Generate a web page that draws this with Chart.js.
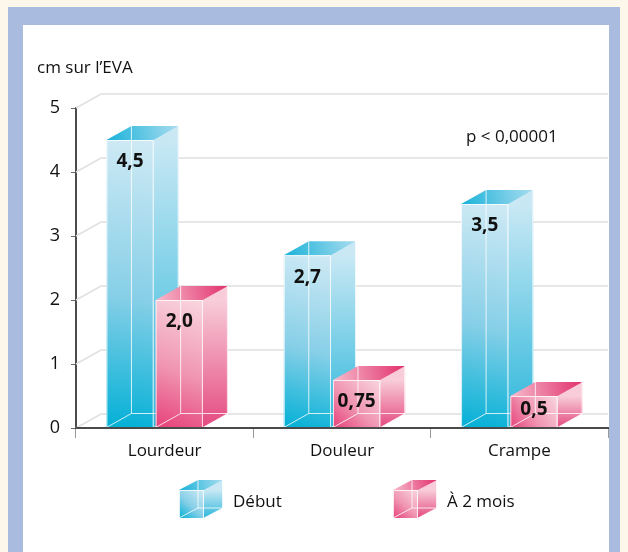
<!DOCTYPE html>
<html lang="fr">
<head>
<meta charset="utf-8">
<script src="https://cdn.jsdelivr.net/npm/chart.js@4.4.1/dist/chart.umd.min.js"></script>
<style>
  html, body { margin: 0; padding: 0; }
  body { width: 628px; height: 552px; background: #fcf7ea; position: relative; overflow: hidden; }
  .cadre { position: absolute; left: 8px; top: 7px; width: 612px; height: 560px; background: #aabbe0; }
  .fond { position: absolute; left: 23px; top: 25px; width: 586px; height: 540px; background: #fff; }
  #graph { position: absolute; left: 23px; top: 25px; }
</style>
</head>
<body>
<div class="cadre"></div>
<div class="fond"></div>
<canvas id="graph" width="586" height="527"></canvas>
<script>
// données
const categories = ['Lourdeur', 'Douleur', 'Crampe'];
const debut = [4.5, 2.7, 3.5];
const deuxMois = [2.0, 0.75, 0.5];
const yTicks = [0, 1, 2, 3, 4, 5];
const seriesNames = ['Début', 'À 2 mois'];

const DX = 25, DY = -14, SHIFT = -10;
const FONT = "'Open Sans', sans-serif";

const palettes = [
    { front: ['#d0eaf5', '#86cfe7', '#02b0d6'], side: ['#c9e8f4', '#2cb7db'], top: ['#18b2d9', '#a9dcef'] },
    { front: ['#f9d6df', '#f096b2', '#e6417a'], side: ['#f8cdd9', '#e44a80'], top: ['#f6bccd', '#e2306d'] }
];

const fmt = v => v.toLocaleString('fr-FR', { minimumFractionDigits: 1 });

function drawBox(ctx, left, right, top, bottom, c, dx, dy) {
    // face latérale
    let g = ctx.createLinearGradient(0, top, 0, bottom);
    g.addColorStop(0, c.side[0]);
    g.addColorStop(1, c.side[1]);
    ctx.fillStyle = g;
    ctx.beginPath();
    ctx.moveTo(right, top);
    ctx.lineTo(right + dx, top + dy);
    ctx.lineTo(right + dx, bottom + dy);
    ctx.lineTo(right, bottom);
    ctx.closePath();
    ctx.fill();

    // face avant
    g = ctx.createLinearGradient(right, top, left, bottom);
    g.addColorStop(0, c.front[0]);
    g.addColorStop(0.55, c.front[1]);
    g.addColorStop(1, c.front[2]);
    ctx.fillStyle = g;
    ctx.fillRect(left, top, right - left, bottom - top);

    // dessus
    g = ctx.createLinearGradient(left, top, right + dx, top + dy);
    g.addColorStop(0, c.top[0]);
    g.addColorStop(1, c.top[1]);
    ctx.fillStyle = g;
    ctx.beginPath();
    ctx.moveTo(left, top);
    ctx.lineTo(left + dx, top + dy);
    ctx.lineTo(right + dx, top + dy);
    ctx.lineTo(right, top);
    ctx.closePath();
    ctx.fill();

    // arêtes "verre"
    ctx.save();
    ctx.strokeStyle = 'rgba(255,255,255,0.8)';
    ctx.lineWidth = 1;
    ctx.beginPath();
    ctx.moveTo(left + dx, top + dy); ctx.lineTo(left + dx, bottom + dy);
    ctx.lineTo(right + dx, bottom + dy);
    ctx.moveTo(left, bottom); ctx.lineTo(left + dx, bottom + dy);
    ctx.moveTo(left + 0.5, bottom); ctx.lineTo(left + 0.5, top + 0.5);
    ctx.lineTo(right - 0.5, top + 0.5); ctx.lineTo(right - 0.5, bottom);
    ctx.moveTo(right, bottom); ctx.lineTo(right + dx, bottom + dy);
    ctx.moveTo(right + dx - 0.5, top + dy); ctx.lineTo(right + dx - 0.5, bottom + dy);
    ctx.stroke();
    ctx.restore();
}

const bars3d = {
    id: 'bars3d',
    beforeDatasetsDraw(chart) {
        const { ctx, chartArea, scales } = chart;
        ctx.save();
        ctx.strokeStyle = '#e0e0e0';
        ctx.lineWidth = 1.5;
        yTicks.forEach(v => {
            const py = scales.y.getPixelForValue(v);
            ctx.beginPath();
            ctx.moveTo(chartArea.left, py);
            ctx.lineTo(chartArea.left + DX, py + DY);
            ctx.lineTo(chartArea.right, py + DY);
            ctx.stroke();
        });
        ctx.restore();
    },
    beforeDatasetDraw() {
        return false;
    },
    afterDatasetsDraw(chart) {
        const { ctx, chartArea } = chart;
        const metas = chart.data.datasets.map((d, i) => chart.getDatasetMeta(i));
        categories.forEach((cat, idx) => {
            metas.forEach((meta, di) => {
                const b = meta.data[idx].getProps(['x', 'y', 'base', 'width'], true);
                drawBox(ctx, b.x - b.width / 2 + SHIFT, b.x + b.width / 2 + SHIFT, b.y, b.base, palettes[di], DX, DY);
            });
        });
        // ligne de l'axe par-dessus les barres
        ctx.save();
        ctx.strokeStyle = '#4a4a4a';
        ctx.lineWidth = 2;
        ctx.beginPath();
        ctx.moveTo(chartArea.left, chartArea.bottom);
        ctx.lineTo(chartArea.right, chartArea.bottom);
        ctx.stroke();

        // valeurs
        ctx.fillStyle = '#111';
        ctx.font = 'bold 19px ' + FONT;
        ctx.textAlign = 'center';
        ctx.textBaseline = 'middle';
        metas.forEach((meta, di) => {
            meta.data.forEach((bar, idx) => {
                const b = bar.getProps(['x', 'y', 'base'], true);
                const ty = Math.min(b.y + 22, (b.y + b.base) / 2 - 2);
                ctx.fillText(fmt(chart.data.datasets[di].data[idx]), b.x + SHIFT, ty);
            });
        });
        ctx.restore();
    },
    afterDraw(chart) {
        const { ctx, chartArea } = chart;
        ctx.save();
        ctx.fillStyle = '#111';
        ctx.font = '17px ' + FONT;
        ctx.textBaseline = 'middle';
        ctx.textAlign = 'left';
        ctx.fillText('cm sur l\u2019EVA', 14, 43);
        ctx.fillText('p < 0,00001', 443, 112);

        // légende
        const legendY = chartArea.bottom + 62;
        const items = [{ x: 156 }, { x: 370 }];
        items.forEach((it, i) => {
            drawBox(ctx, it.x, it.x + 25, legendY, legendY + 28, palettes[i], 19, -10);
            ctx.fillStyle = '#111';
            ctx.font = '17px ' + FONT;
            ctx.fillText(seriesNames[i], it.x + 54, legendY + 12);
        });
        ctx.restore();
    }
};

const ctx = document.getElementById('graph').getContext('2d');

const chart = new Chart(ctx, {
    type: 'bar',
    data: {
        labels: categories,
        datasets: [
            { label: seriesNames[0], data: debut, backgroundColor: '#4cc0e0' },
            { label: seriesNames[1], data: deuxMois, backgroundColor: '#ec7098' }
        ]
    },
    options: {
        responsive: false,
        animation: false,
        devicePixelRatio: 1,
        categoryPercentage: 0.555,
        barPercentage: 0.96,
        layout: { padding: { top: 83, right: 1, left: 0, bottom: 74 } },
        plugins: { legend: { display: false }, tooltip: { enabled: false } },
        scales: {
            x: {
                grid: { drawOnChartArea: false, tickLength: 10, color: '#9a9a9a' },
                border: { color: '#4a4a4a', width: 2 },
                ticks: { color: '#111', font: { family: FONT, size: 17 }, padding: 3 },
                afterFit(scale) { scale.height = 50; }
            },
            y: {
                min: 0,
                max: 5,
                grid: { drawOnChartArea: false, tickLength: 5, color: '#6a6a6a' },
                border: { color: '#4a4a4a', width: 2 },
                ticks: { stepSize: 1, color: '#111', font: { family: FONT, size: 18 }, padding: 11 },
                afterFit(scale) { scale.width = 53; }
            }
        }
    },
    plugins: [bars3d]
});
</script>
</body>
</html>
